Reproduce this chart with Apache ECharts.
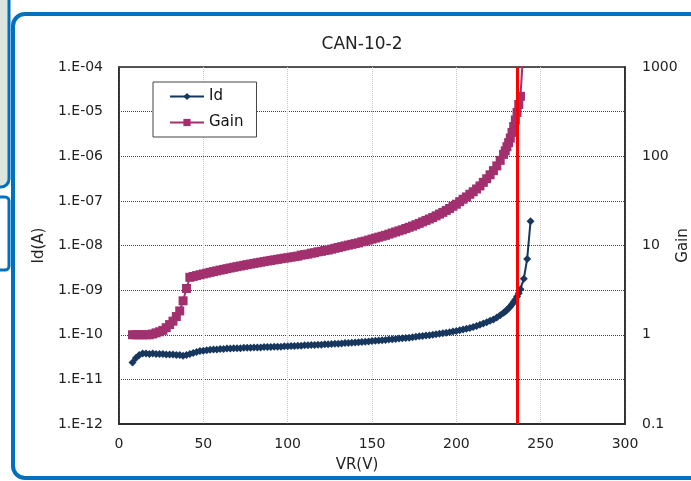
<!DOCTYPE html>
<html>
<head>
<meta charset="utf-8">
<script src="https://cdn.jsdelivr.net/npm/echarts@6/dist/echarts.min.js"></script>
<style>
html,body{margin:0;padding:0;background:#fff;}
#chart{width:691px;height:481px;}
</style>
</head>
<body>
<div id="chart"></div>
<script>
// ---- data ----
const chartTitle = 'CAN-10-2';
const xName = 'VR(V)';
const yLeftName = 'Id(A)';
const yRightName = 'Gain';
const seriesNames = ['Id', 'Gain'];

const voltages = [
  8,10,12,14,16,18,20,22,24,26,28,30,32,34,36,38,40,42,44,46,48,50,
  52,54,56,58,60,62,64,66,68,70,72,74,76,78,80,82,84,86,88,90,92,94,96,98,100,
  102,104,106,108,110,112,114,116,118,120,122,124,126,128,130,132,134,136,138,140,
  142,144,146,148,150,152,154,156,158,160,162,164,166,168,170,172,174,176,178,180,
  182,184,186,188,190,192,194,196,198,200,202,204,206,208,210,212,214,216,218,220,
  222,224,226,228,229,230,231,232,233,234,235,236,237,238,240,242,244
];

const idValues = [
  2.4e-11,3.0e-11,3.5e-11,3.8e-11,3.8e-11,3.7e-11,3.8e-11,3.7e-11,3.7e-11,3.7e-11,3.6e-11,3.6e-11,
  3.6e-11,3.5e-11,3.5e-11,3.4e-11,3.5e-11,3.7e-11,3.9e-11,4.1e-11,4.3e-11,4.4e-11,
  4.5e-11,4.6e-11,4.7e-11,4.7e-11,4.8e-11,4.8e-11,4.9e-11,4.9e-11,5.0e-11,5.0e-11,5.0e-11,5.1e-11,
  5.1e-11,5.1e-11,5.2e-11,5.2e-11,5.2e-11,5.3e-11,5.3e-11,5.3e-11,5.4e-11,5.4e-11,5.4e-11,5.5e-11,5.5e-11,
  5.6e-11,5.6e-11,5.7e-11,5.7e-11,5.8e-11,5.8e-11,5.9e-11,5.9e-11,6.0e-11,6.0e-11,6.1e-11,6.1e-11,
  6.2e-11,6.3e-11,6.3e-11,6.4e-11,6.5e-11,6.5e-11,6.6e-11,6.7e-11,
  6.8e-11,6.9e-11,7.0e-11,7.1e-11,7.2e-11,7.3e-11,7.4e-11,7.5e-11,7.6e-11,7.8e-11,7.9e-11,8.0e-11,
  8.2e-11,8.3e-11,8.5e-11,8.6e-11,8.8e-11,9.0e-11,9.2e-11,9.4e-11,
  9.6e-11,9.8e-11,1.0e-10,1.02e-10,1.05e-10,1.08e-10,1.11e-10,1.14e-10,1.18e-10,1.22e-10,1.26e-10,
  1.31e-10,1.36e-10,1.42e-10,1.5e-10,1.58e-10,1.67e-10,1.78e-10,1.9e-10,2.05e-10,
  2.2e-10,2.45e-10,2.75e-10,3.1e-10,3.3e-10,3.6e-10,3.9e-10,4.3e-10,4.8e-10,5.4e-10,6.2e-10,
  7.2e-10,8.5e-10,1.05e-9,1.8e-9,5.0e-9,3.5e-8
];

const gainValues = [
  1.0,1.0,1.0,1.0,1.0,1.0,1.02,1.05,1.08,1.12,1.2,1.3,1.42,1.6,1.85,2.4,3.3,4.4,4.5,4.6,4.7,4.8,
  4.9,5.0,5.1,5.2,5.3,5.4,5.5,5.6,5.7,5.8,5.9,6.0,6.1,6.2,6.3,6.4,6.5,6.6,6.7,6.8,6.9,7.0,7.1,7.2,7.3,
  7.4,7.5,7.6,7.8,7.9,8.0,8.2,8.3,8.5,8.6,8.8,8.9,9.1,9.3,9.5,9.7,9.9,10.1,10.3,10.5,
  10.7,11.0,11.2,11.5,11.8,12.1,12.4,12.7,13.0,13.4,13.8,14.2,14.6,15.0,15.5,16.0,16.5,17.1,17.7,18.4,
  19.1,19.8,20.6,21.5,22.5,23.5,24.7,26,27.5,29,31,33,35,37.5,40,43,46.5,51,56,62,
  69,78,90,105,115,128,142,160,185,215,255,310,380,470,1800,null,null
];

const xTicks = { min: 0, max: 300, interval: 50 };
const idAxisRange = { min: 1e-12, max: 1e-4 };
const gainAxisRange = { min: 0.1, max: 1000 };
const redLineV = [236];
// --------------------------------------

const FONT = '"DejaVu Sans", "Noto Sans", sans-serif';
const idColor = '#17375E';
const gainColor = '#A2306E';

function fmtE(v) {
  const e = Math.round(Math.log10(v));
  return '1.E' + (e < 0 ? '-' : '+') + String(Math.abs(e)).padStart(2, '0');
}
function fmtGain(v) {
  const e = Math.round(Math.log10(v));
  return e >= 0 ? String(Math.pow(10, e)) : '0.' + '0'.repeat(-e - 1) + '1';
}

const chart = echarts.init(document.getElementById('chart'), null, { renderer: 'canvas' });

chart.setOption({
  animation: false,
  backgroundColor: '#ffffff',
  textStyle: { fontFamily: FONT },
  graphic: [
    { type: 'rect', silent: true, z: -10,
      shape: { x: -20, y: -20, width: 29, height: 207, r: 8 },
      style: { fill: '#DCE5DE', stroke: '#0070C0', lineWidth: 3 } },
    { type: 'rect', silent: true, z: -10,
      shape: { x: -20, y: 197, width: 29, height: 73, r: 4 },
      style: { fill: '#ffffff', stroke: '#0070C0', lineWidth: 3 } },
    { type: 'rect', silent: true, z: -10,
      shape: { x: 13, y: 14, width: 720, height: 464, r: 12 },
      style: { fill: 'none', stroke: '#0070C0', lineWidth: 4 } }
  ],
  title: {
    text: chartTitle,
    left: 357, top: 31, textAlign: 'center',
    textStyle: { fontFamily: FONT, fontSize: 17, fontWeight: 'normal', color: '#222' }
  },
  legend: {
    data: seriesNames,
    orient: 'vertical',
    left: 153, top: 82,
    padding: [7, 13, 7, 16],
    itemGap: 11,
    itemWidth: 34, itemHeight: 9,
    backgroundColor: '#fff',
    borderColor: '#444', borderWidth: 1, borderRadius: 0,
    textStyle: { fontFamily: FONT, fontSize: 15, color: '#111' }
  },
  grid: {
    left: 119, right: 66, top: 67, bottom: 57,
    outerBoundsMode: 'none',
    containLabel: false,
    show: true, borderColor: '#222', borderWidth: 1.5, backgroundColor: 'transparent'
  },
  xAxis: {
    type: 'value',
    min: xTicks.min, max: xTicks.max, interval: xTicks.interval,
    name: xName, nameLocation: 'middle', nameGap: 34, nameMoveOverlap: false,
    nameTextStyle: { fontFamily: FONT, fontSize: 15, color: '#222', padding: [0, 30, 0, 0] },
    axisLine: { show: true, lineStyle: { color: '#222', width: 1.5 } },
    axisTick: { show: false },
    axisLabel: { fontFamily: FONT, fontSize: 14, color: '#222', margin: 13 },
    splitLine: { show: true, lineStyle: { color: '#c8c8c8', type: 'dotted', width: 1 } }
  },
  yAxis: [
    {
      type: 'log', logBase: 10,
      min: idAxisRange.min, max: idAxisRange.max, interval: 1,
      name: yLeftName, nameLocation: 'middle', nameGap: 72, nameRotate: 90, nameMoveOverlap: false,
      nameTextStyle: { fontFamily: FONT, fontSize: 15, color: '#222' },
      axisLine: { show: true, lineStyle: { color: '#222', width: 1.5 } },
      axisTick: { show: false },
      axisLabel: { fontFamily: FONT, fontSize: 14, color: '#222', margin: 16, formatter: fmtE },
      splitLine: { show: true, lineStyle: { color: '#444', type: 'dotted', width: 1 } }
    },
    {
      type: 'log', logBase: 10,
      min: gainAxisRange.min, max: gainAxisRange.max, interval: 1,
      position: 'right',
      name: yRightName, nameLocation: 'middle', nameGap: 51, nameRotate: 90, nameMoveOverlap: false,
      nameTextStyle: { fontFamily: FONT, fontSize: 15, color: '#222' },
      axisLine: { show: true, lineStyle: { color: '#222', width: 1.5 } },
      axisTick: { show: false },
      axisLabel: { fontFamily: FONT, fontSize: 14, color: '#222', margin: 17, formatter: fmtGain },
      splitLine: { show: false }
    }
  ],
  series: [
    {
      name: seriesNames[0], type: 'line', yAxisIndex: 0,
      data: voltages.map((v, i) => [v, idValues[i]]),
      symbol: 'diamond', symbolSize: 8, showAllSymbol: true,
      itemStyle: { color: idColor },
      lineStyle: { color: idColor, width: 2 },
      z: 3,
      markLine: {
        silent: true, symbol: ['none', 'none'],
        label: { show: false },
        lineStyle: { color: '#FF0000', width: 3, type: 'solid' },
        data: redLineV.map(v => ({ xAxis: v }))
      }
    },
    {
      name: seriesNames[1], type: 'line', yAxisIndex: 1,
      data: voltages.map((v, i) => [v, gainValues[i]]),
      symbol: 'rect', symbolSize: 9, showAllSymbol: true,
      itemStyle: { color: gainColor },
      lineStyle: { color: gainColor, width: 2 },
      z: 2
    }
  ]
});
</script>
</body>
</html>
